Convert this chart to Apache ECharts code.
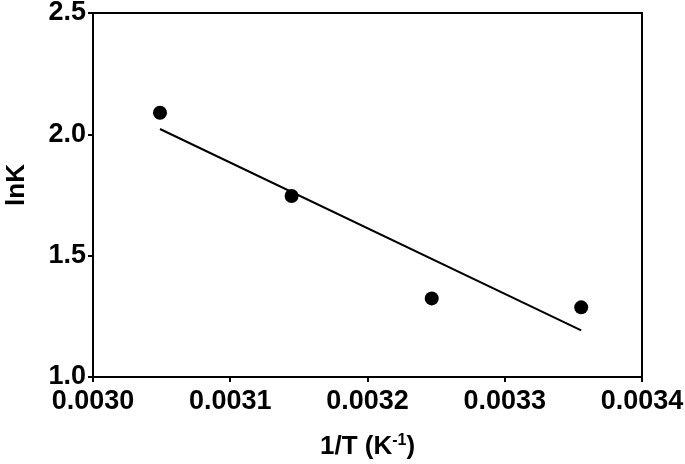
<!DOCTYPE html>
<html>
<head>
<meta charset="utf-8">
<script src="https://cdn.jsdelivr.net/npm/echarts@6/dist/echarts.min.js"></script>
<style>
html,body{margin:0;padding:0;background:#fff;}
#chart{width:685px;height:464px;}
</style>
</head>
<body>
<div id="chart"></div>
<script>
// Data
var invT = [0.0030488, 0.0031447, 0.0032468, 0.0033557];
var lnK = [2.089, 1.746, 1.324, 1.287];
var fitX = [0.0030488, 0.0033557];
var fitY = [2.022, 1.192];
var xTicks = ['0.0030', '0.0031', '0.0032', '0.0033', '0.0034'];
var yTicks = ['1.0', '1.5', '2.0', '2.5'];

var font = 'Liberation Sans, Arial, sans-serif';
var chart = echarts.init(document.getElementById('chart'), null, {renderer: 'canvas'});
chart.setOption({
  animation: false,
  backgroundColor: '#fff',
  grid: {left: 93, right: 43, top: 13, bottom: 87, show: true, borderColor: '#000', borderWidth: 2, backgroundColor: 'transparent',
    containLabel: false, outerBoundsMode: 'none'},
  xAxis: {
    type: 'value', min: 0.0030, max: 0.0034, interval: 0.0001,
    name: '1/T (K{sup|-1})', nameLocation: 'middle', nameGap: 56,
    nameTextStyle: {fontFamily: font, fontWeight: 'bold', fontSize: 26, color: '#000',
      rich: {sup: {fontFamily: font, fontWeight: 'bold', fontSize: 16, verticalAlign: 'top', padding: [0,0,12,0], color: '#000'}}},
    axisLine: {show: true, onZero: false, lineStyle: {color: '#000', width: 2}},
    axisTick: {show: true, inside: false, length: 5, lineStyle: {color: '#000', width: 2}},
    splitLine: {show: false},
    axisLabel: {margin: 11, fontFamily: font, fontWeight: 'bold', fontSize: 27, color: '#000',
      formatter: function (v) { var i = Math.round((v - 0.0030) / 0.0001); return xTicks[i] || ''; }}
  },
  yAxis: {
    type: 'value', min: 1.0, max: 2.5, interval: 0.5,
    name: 'lnK', nameLocation: 'middle', nameGap: 63,
    nameTextStyle: {fontFamily: font, fontWeight: 'bold', fontSize: 26, color: '#000', padding: [0, 0, 0, 20]},
    axisLine: {show: true, onZero: false, lineStyle: {color: '#000', width: 2}},
    axisTick: {show: true, inside: false, length: 5, lineStyle: {color: '#000', width: 2}},
    splitLine: {show: false},
    axisLabel: {margin: 7, fontFamily: font, fontWeight: 'bold', fontSize: 27, color: '#000',
      formatter: function (v) { var i = Math.round((v - 1.0) / 0.5); return yTicks[i] || ''; }}
  },
  series: [
    {type: 'line', data: fitX.map(function (x, i) { return [x, fitY[i]]; }), symbol: 'none',
      lineStyle: {color: '#000', width: 2}, z: 2},
    {type: 'scatter', data: invT.map(function (x, i) { return [x, lnK[i]]; }), symbol: 'circle', symbolSize: 14,
      itemStyle: {color: '#000', opacity: 1}, z: 3}
  ]
});
</script>
</body>
</html>
